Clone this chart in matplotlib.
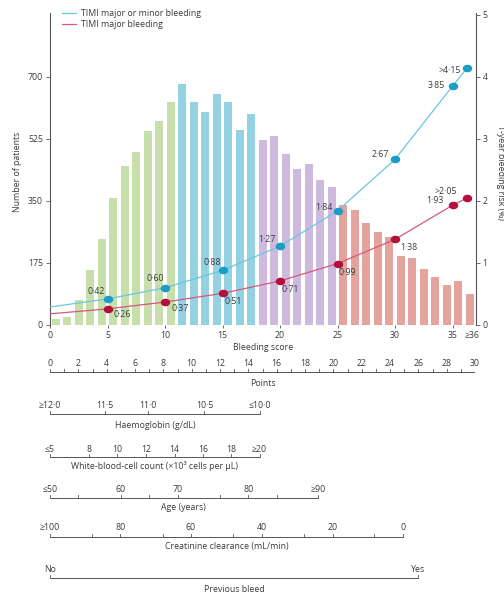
import numpy as np
import matplotlib
matplotlib.use("Agg")
import matplotlib.pyplot as plt
from matplotlib.lines import Line2D
from matplotlib.path import Path

plt.rcParams['font.family'] = ['Open Sans', 'DejaVu Sans']

# ---------------- data ----------------
scores = list(range(37))
patients = [16, 23, 70, 155, 243, 359, 449, 487, 548, 574, 628,
            679, 630, 602, 652, 628, 550, 595,
            522, 534, 483, 441, 454, 409, 390,
            339, 325, 289, 263, 247, 195, 188, 157, 136, 113, 125, 87]
quartile_starts = [0, 11, 18, 25]
quartile_colors = ['#c7dfab', '#93d1e3', '#cfbadf', '#e5a39e']

risk_x = [5, 10, 15, 20, 25, 30, 35, 36.3]
risk_major_minor = [0.42, 0.60, 0.88, 1.27, 1.84, 2.67, 3.85, 4.15]
risk_major = [0.26, 0.37, 0.51, 0.71, 0.99, 1.38, 1.93, 2.05]
curve_start_x = 0
curve_start_major_minor = 0.29
curve_start_major = 0.18

xtick_values = [0, 5, 10, 15, 20, 25, 30, 35, 36.7]
xtick_labels = ['0', '5', '10', '15', '20', '25', '30', '35', '≥36']
left_ticks = [0, 175, 350, 525, 700]
right_ticks = [0, 1, 2, 3, 4, 5]

points_ticks = list(range(31))
hb_labels = ['≥12·0', '11·5', '11·0', '10·5', '≤10·0']
hb_points = [0, 3.9, 6.9, 10.9, 14.8]
wbc_labels = ['≤5', '8', '10', '12', '14', '16', '18', '≥20']
wbc_points = [0, 2.75, 4.75, 6.8, 8.8, 10.8, 12.8, 14.8]
age_labels = ['≤50', '', '60', '', '70', '', '80', '', '≥90']
age_points = [0, 2, 5, 7, 9, 12, 14, 16, 18.9]
crcl_labels = ['≥100', '', '80', '', '60', '', '40', '', '20', '', '0']
crcl_points = [0, 2.95, 4.95, 7.95, 9.95, 12.95, 14.95, 17.95, 19.95, 22.9, 24.9]
bleed_labels = ['No', 'Yes']
bleed_points = [0, 26]

# ---------------- layout / style ----------------
W, H = 504, 595
FS = 6.3
TXT = '#3a3a3a'
AX = '#555555'
BLUE_LINE, BLUE_DOT = '#6cc6de', '#1a9dc6'
RED_LINE, RED_DOT = '#d8587a', '#b3103c'

fig = plt.figure(figsize=(W / 100, H / 100), dpi=100)
ax = fig.add_axes([50 / W, 1 - 325 / H, 425.5 / W, 312 / H])
ax.set_xlim(0, 37)
ax.set_ylim(0, 880)

bar_colors = []
for s in scores:
    g = sum(1 for q in quartile_starts if s >= q) - 1
    bar_colors.append(quartile_colors[g])
ax.bar(np.array(scores) + 0.5, patients, width=0.72, color=bar_colors, zorder=1)

for sp in ['top', 'right', 'bottom']:
    ax.spines[sp].set_visible(False)
ax.spines['left'].set_color(AX)
ax.spines['left'].set_linewidth(0.8)
ax.set_yticks(left_ticks)
ax.set_yticklabels([str(t) for t in left_ticks])
ax.tick_params(axis='y', length=3, width=0.6, colors=AX, labelcolor=TXT, labelsize=FS, pad=2)
ax.set_xticks(xtick_values)
ax.set_xticklabels(xtick_labels)
ax.tick_params(axis='x', length=2, width=0.6, colors=AX, labelcolor=TXT, labelsize=FS, pad=2)
ax.xaxis.get_major_ticks()[-1].tick1line.set_visible(False)

ax2 = ax.twinx()
ax2.set_ylim(0, 880 / 175)
for sp in ['top', 'left', 'bottom']:
    ax2.spines[sp].set_visible(False)
ax2.spines['right'].set_color(AX)
ax2.spines['right'].set_linewidth(0.8)
ax2.set_yticks(right_ticks)
ax2.set_yticklabels([str(t) for t in right_ticks])
ax2.tick_params(axis='y', length=3, width=0.6, colors=AX, labelcolor=TXT, labelsize=FS, pad=2)

t = np.linspace(0, 2 * np.pi, 40)
ellipse = Path(np.column_stack([1.3 * np.cos(t), np.sin(t)]))

cx = [curve_start_x] + risk_x
ax2.plot(cx, [curve_start_major_minor] + risk_major_minor, color=BLUE_LINE, lw=0.9, zorder=3)
ax2.plot(cx, [curve_start_major] + risk_major, color=RED_LINE, lw=0.9, zorder=3)
ax2.plot(risk_x, risk_major_minor, ls='none', marker=ellipse, ms=5.8, color=BLUE_DOT, zorder=4)
ax2.plot(risk_x, risk_major, ls='none', marker=ellipse, ms=5.8, color=RED_DOT, zorder=4)

def fmt(v, last):
    s = f"{v:.2f}".replace('.', '·')
    return ('>' + s) if last else s

blue_offsets = [(-3, 7), (-1, 9), (-1, 8), (-5, 7), (-5, 3), (-6, 5), (-8, 1), (-7, -3)]
red_offsets = [(6, -6), (7, -6), (2, -8), (1, -9), (1, -9), (5, -8), (-9, 5), (-10, 6)]
red_ha = ['left'] * 6 + ['right'] * 2
n = len(risk_x)
for i in range(n):
    ax2.annotate(fmt(risk_major_minor[i], i == n - 1), (risk_x[i], risk_major_minor[i]),
                 xytext=blue_offsets[i], textcoords='offset pixels', ha='right', va='center',
                 fontsize=FS, color=TXT, zorder=5)
    ax2.annotate(fmt(risk_major[i], i == n - 1), (risk_x[i], risk_major[i]),
                 xytext=red_offsets[i], textcoords='offset pixels', ha=red_ha[i], va='center',
                 fontsize=FS, color=TXT, zorder=5)

handles = [Line2D([], [], color=BLUE_LINE, lw=0.9), Line2D([], [], color=RED_LINE, lw=0.9)]
ax2.legend(handles, ['TIMI major or minor bleeding', 'TIMI major bleeding'],
           loc='upper left', bbox_to_anchor=(62 / W, 1 - 9 / H), bbox_transform=fig.transFigure,
           frameon=False, fontsize=FS, handlelength=1.6, handletextpad=0.6,
           labelspacing=0.25, borderpad=0, borderaxespad=0, labelcolor=TXT)

fig.text(18 / W, 1 - 172 / H, 'Number of patients', rotation=90, ha='center', va='center',
         fontsize=FS, color=TXT)
fig.text(500 / W, 1 - 172 / H, '1-year bleeding risk (%)', rotation=270, ha='center', va='center',
         fontsize=FS, color=TXT)
fig.text(263 / W, 1 - 348 / H, 'Bleeding score', ha='center', va='center', fontsize=FS, color=TXT)

# ---------------- nomogram ----------------
nax = fig.add_axes([50 / W, 0, 425 / W, 265 / H])
nax.set_xlim(0, 30)
nax.set_ylim(595, 330)
nax.axis('off')

def scale(pts, labels, y_lab, y_line, y_title, title, tick_px=3):
    nax.plot([pts[0], pts[-1]], [y_line, y_line], color=AX, lw=0.7, solid_capstyle='butt')
    for p, lab in zip(pts, labels):
        nax.plot([p, p], [y_line, y_line - tick_px], color=AX, lw=0.6)
        if lab:
            nax.text(p, y_lab, lab, ha='center', va='center', fontsize=FS, color=TXT)
    nax.text((pts[0] + pts[-1]) / 2, y_title, title, ha='center', va='center', fontsize=FS, color=TXT)

scale(points_ticks, [str(p) if p % 2 == 0 else '' for p in points_ticks], 364, 372, 384, 'Points')
scale(hb_points, hb_labels, 406, 414, 425, 'Haemoglobin (g/dL)')
scale(wbc_points, wbc_labels, 450, 457, 466, 'White-blood-cell count (×10³ cells per μL)')
scale(age_points, age_labels, 489, 498, 508, 'Age (years)')
scale(crcl_points, crcl_labels, 528, 537, 547, 'Creatinine clearance (mL/min)')
scale(bleed_points, bleed_labels, 570, 578, 589, 'Previous bleed')

fig.savefig('out.png', dpi=100, facecolor='white')
